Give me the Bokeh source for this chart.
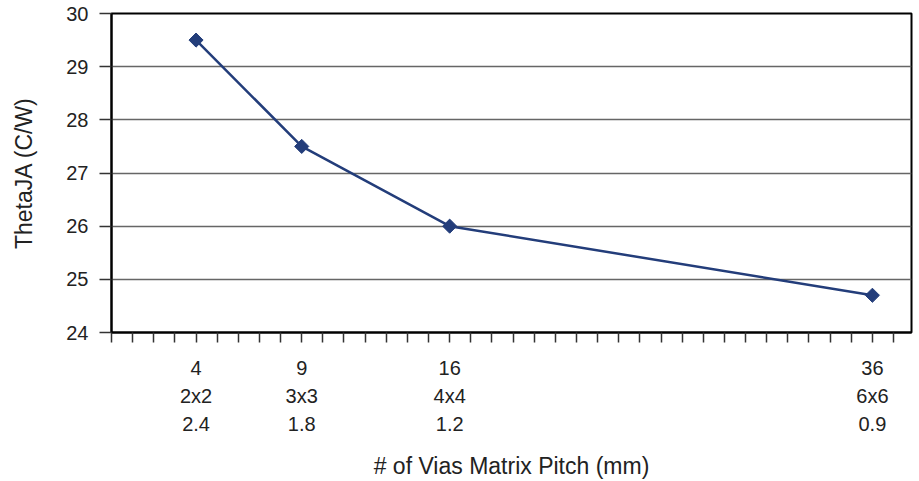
import math
from bokeh.plotting import figure
from bokeh.models import LinearAxis, FixedTicker, Range1d
from bokeh.embed import file_html
from bokeh.resources import INLINE

# Data
vias = [4, 9, 16, 36]
matrix = ["2x2", "3x3", "4x4", "6x6"]
pitch = ["2.4", "1.8", "1.2", "0.9"]
theta_ja = [29.5, 27.5, 26.0, 24.7]
y_ticks = [24, 25, 26, 27, 28, 29, 30]
x_minor = list(range(0, 39))

FONT = "Liberation Sans"
TXT = "#222222"
LINE = "#233d7a"
TICK_FS = "20px"
LABEL_FS = "23px"

p = figure(frame_width=800, frame_height=319, output_backend="svg", toolbar_location=None,
           x_range=Range1d(0, 37.85), y_range=Range1d(24, 30),
           x_axis_location=None, min_border_left=111, min_border_top=13,
           min_border_right=6, min_border_bottom=4)
p.outline_line_color = "black"
p.outline_line_width = 2
p.background_fill_color = "white"
p.border_fill_color = "white"

# y axis
ya = p.yaxis[0]
ya.ticker = FixedTicker(ticks=y_ticks)
ya.major_tick_out = 12
ya.major_tick_in = 0
ya.minor_tick_out = 0
ya.minor_tick_in = 0
ya.axis_line_color = "black"
ya.axis_line_width = 2
ya.major_tick_line_color = "#333333"
ya.major_tick_line_width = 1.5
ya.major_label_text_font = FONT
ya.major_label_text_font_size = TICK_FS
ya.major_label_text_color = TXT
ya.major_label_standoff = 11
ya.axis_label = "ThetaJA (C/W)"
ya.axis_label_text_font = FONT
ya.axis_label_text_font_size = LABEL_FS
ya.axis_label_text_font_style = "normal"
ya.axis_label_text_color = TXT
ya.axis_label_standoff = 26

p.ygrid.ticker = FixedTicker(ticks=y_ticks)
p.ygrid.grid_line_color = "#666666"
p.ygrid.grid_line_width = 1.5
p.xgrid.visible = False

def make_axis(labels, first):
    ticks = x_minor if first else vias
    ax = LinearAxis(ticker=FixedTicker(ticks=ticks))
    ov = {t: "" for t in ticks}
    for v, lab in zip(vias, labels):
        ov[v] = lab
    ax.major_label_overrides = ov
    ax.minor_tick_out = 0
    ax.minor_tick_in = 0
    ax.major_tick_in = 0
    ax.major_label_text_font = FONT
    ax.major_label_text_font_size = TICK_FS
    ax.major_label_text_color = TXT
    if first:
        ax.major_tick_out = 10
        ax.axis_line_color = "black"
        ax.axis_line_width = 2
        ax.major_tick_line_color = "#333333"
        ax.major_tick_line_width = 1.5
        ax.major_label_standoff = 18
    else:
        ax.major_tick_out = 0
        ax.axis_line_color = None
        ax.major_tick_line_color = None
        ax.major_label_standoff = 7
    return ax

ax1 = make_axis([str(v) for v in vias], True)
ax2 = make_axis(matrix, False)
ax3 = make_axis(pitch, False)
ax3.axis_label = "# of Vias Matrix Pitch (mm)"
ax3.axis_label_text_font = FONT
ax3.axis_label_text_font_size = LABEL_FS
ax3.axis_label_text_font_style = "normal"
ax3.axis_label_text_color = TXT
ax3.axis_label_standoff = 19
p.add_layout(ax1, "below")
p.add_layout(ax2, "below")
p.add_layout(ax3, "below")

p.line(vias, theta_ja, line_color=LINE, line_width=2.5)
p.scatter(vias, theta_ja, marker="square", angle=math.pi / 4, size=10,
          fill_color=LINE, line_color=LINE)

open("out.html", "w").write(file_html(p, INLINE))
